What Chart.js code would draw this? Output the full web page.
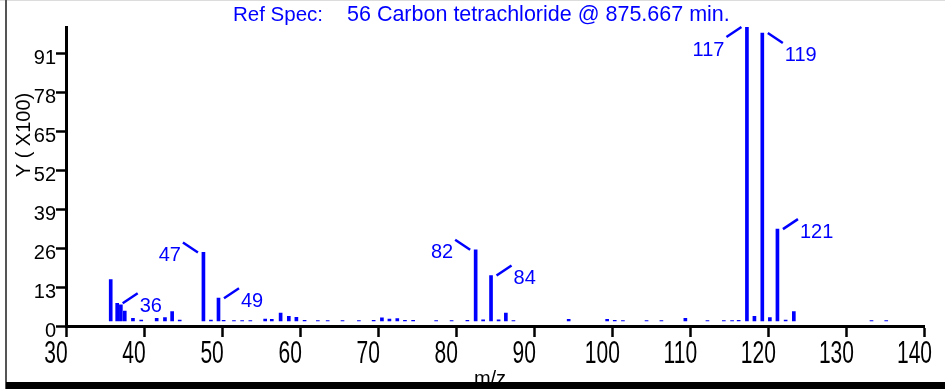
<!DOCTYPE html>
<html>
<head>
<meta charset="utf-8">
<title>Ref Spec 56 Carbon tetrachloride</title>
<script src="https://cdn.jsdelivr.net/npm/chart.js@4.4.1/dist/chart.umd.min.js"></script>
<style>
  html, body { margin: 0; padding: 0; background: #fff; }
  canvas { display: block; }
</style>
</head>
<body>
<canvas id="spectrum" width="945" height="389"></canvas>
<script>
const titleHead = 'Ref Spec:';
const titleBody = '56 Carbon tetrachloride @ 875.667 min.';

// bar positions (m/z as drawn) and heights (Y x100)
const mz = [35.73, 36.56, 37.03, 37.53, 38.58, 39.64, 41.62, 42.68, 43.60, 44.57,
  47.61, 48.57, 49.54, 50.20, 51.52, 52.57, 53.62, 55.52, 56.37, 57.50,
  58.55, 59.52, 60.57, 62.27, 63.53, 65.43, 67.53, 69.42, 70.48, 71.44,
  72.45, 73.43, 74.48, 77.43, 79.41, 81.43, 82.49, 83.45, 84.46, 85.43,
  86.36, 87.33, 94.41, 99.34, 100.31, 101.36, 104.39, 106.29, 109.36, 112.19,
  114.29, 115.35, 116.19, 117.25, 118.21, 119.22, 120.19, 121.16, 122.21, 123.26,
  133.21, 135.10];
const abundance = [15.5, 7.6, 7.1, 5.0, 2.6, 2.0, 2.6, 2.8, 4.8, 2.0,
  24.6, 2.0, 9.3, 1.9, 1.85, 1.85, 1.8, 2.3, 2.2, 4.3,
  3.2, 2.9, 1.9, 1.8, 1.8, 1.85, 1.85, 1.9, 2.7, 2.3,
  2.5, 1.9, 1.9, 1.85, 1.85, 1.9, 25.5, 2.1, 16.9, 2.1,
  4.3, 1.85, 2.2, 2.2, 1.9, 1.85, 1.8, 1.8, 2.6, 1.8,
  1.8, 1.85, 1.9, 100, 3.2, 98, 2.8, 32.4, 2.0, 4.8,
  1.85, 1.85];
const barBase = 1.7;

const xTicks = [30, 40, 50, 60, 70, 80, 90, 100, 110, 120, 130, 140];
const yTicks = [0, 13, 26, 39, 52, 65, 78, 91];

// labelled peaks: text, bar it points at, side of the leader line
const peakLabels = ['36', '47', '49', '82', '84', '117', '119', '121'];
const peakMz = [36.56, 47.61, 49.54, 82.49, 84.46, 117.25, 119.22, 121.16];
const peakSide = ['ur', 'ul', 'ur', 'ul', 'ur', 'dl', 'dr', 'ur'];

const FONT = '"Liberation Sans", Arial, sans-serif';
const BLUE = '#0000ff';

const decorate = {
  id: 'decorate',
  afterDraw(chart) {
    const { ctx, scales: { x, y } } = chart;
    ctx.save();

    // title, two runs like the instrument printout
    ctx.fillStyle = BLUE;
    ctx.textAlign = 'left';
    ctx.textBaseline = 'alphabetic';
    ctx.font = '20.5px ' + FONT;
    ctx.fillText(titleHead, 233, 21);
    ctx.font = '21.5px ' + FONT;
    ctx.fillText(titleBody, 347, 21);

    // peak labels with leader lines
    ctx.strokeStyle = BLUE;
    ctx.lineWidth = 2.5;
    ctx.font = '20px ' + FONT;
    ctx.textBaseline = 'middle';
    peakLabels.forEach((txt, i) => {
      const k = mz.indexOf(peakMz[i]);
      const bx = x.getPixelForValue(peakMz[i]);
      const by = y.getPixelForValue(abundance[k]);
      const side = peakSide[i];
      const sx = side[1] === 'r' ? 1 : -1;
      const sy = side[0] === 'u' ? -1 : 1;
      const x0 = bx + sx * 5.5, y0 = by;
      const x1 = bx + sx * 20.5, y1 = by + sy * 10;
      ctx.beginPath();
      ctx.moveTo(x0, y0);
      ctx.lineTo(x1, y1);
      ctx.stroke();
      ctx.textAlign = sx > 0 ? 'left' : 'right';
      ctx.fillText(txt, x1 + sx * 2, y1 + 13);
    });

    // x tick labels (tall, narrow look)
    ctx.fillStyle = '#000';
    ctx.font = '21px ' + FONT;
    ctx.textAlign = 'center';
    ctx.textBaseline = 'alphabetic';
    x.ticks.forEach(t => {
      ctx.save();
      ctx.translate(x.getPixelForValue(t.value) - 10, 363);
      ctx.scale(1, 1.5);
      ctx.fillText(String(t.value), 0, 0);
      ctx.restore();
    });

    // axis titles
    ctx.font = '20px ' + FONT;
    ctx.fillText('m/z', 490, 385);
    ctx.save();
    ctx.translate(24, 135);
    ctx.rotate(-Math.PI / 2);
    ctx.textBaseline = 'middle';
    ctx.fillText('Y ( X100)', 0, 0);
    ctx.restore();

    // frame
    ctx.fillStyle = '#dcdcdc';
    ctx.fillRect(0, 0, 945, 1);
    ctx.fillStyle = '#555';
    ctx.fillRect(5, 0, 2, 389);
    ctx.fillStyle = '#000';
    ctx.fillRect(6, 382, 939, 7);
    ctx.restore();
  }
};

new Chart(document.getElementById('spectrum'), {
  type: 'bar',
  data: {
    datasets: [{
      data: mz.map((m, i) => ({ x: m, y: abundance[i] })),
      backgroundColor: BLUE,
      borderWidth: 0,
      barThickness: 3,
      base: barBase
    }]
  },
  options: {
    responsive: false,
    animation: false,
    layout: { padding: { top: 27, right: 8, left: 0, bottom: 0 } },
    plugins: {
      legend: { display: false },
      tooltip: { enabled: false }
    },
    scales: {
      x: {
        type: 'linear',
        min: 30,
        max: 140,
        offset: false,
        afterBuildTicks: s => { s.ticks = xTicks.map(v => ({ value: v })); },
        afterFit: s => { s.height = 63; },
        border: { display: true, color: '#000', width: 3 },
        grid: { display: true, offset: false, drawOnChartArea: false, drawTicks: true, tickLength: 11, tickWidth: 2.5, tickColor: '#000' },
        ticks: { color: 'rgba(0,0,0,0)', font: { size: 21, family: FONT }, maxRotation: 0 }
      },
      y: {
        type: 'linear',
        min: 0,
        max: 100,
        afterBuildTicks: s => { s.ticks = yTicks.map(v => ({ value: v })); },
        afterFit: s => { s.width = 66; },
        border: { display: true, color: '#000', width: 3 },
        grid: { display: true, drawOnChartArea: false, drawTicks: true, tickLength: 10, tickWidth: 2.5, tickColor: '#000' },
        ticks: { color: '#000', padding: 0, labelOffset: 5, font: { size: 20, family: FONT } }
      }
    }
  },
  plugins: [decorate]
});
</script>
</body>
</html>
